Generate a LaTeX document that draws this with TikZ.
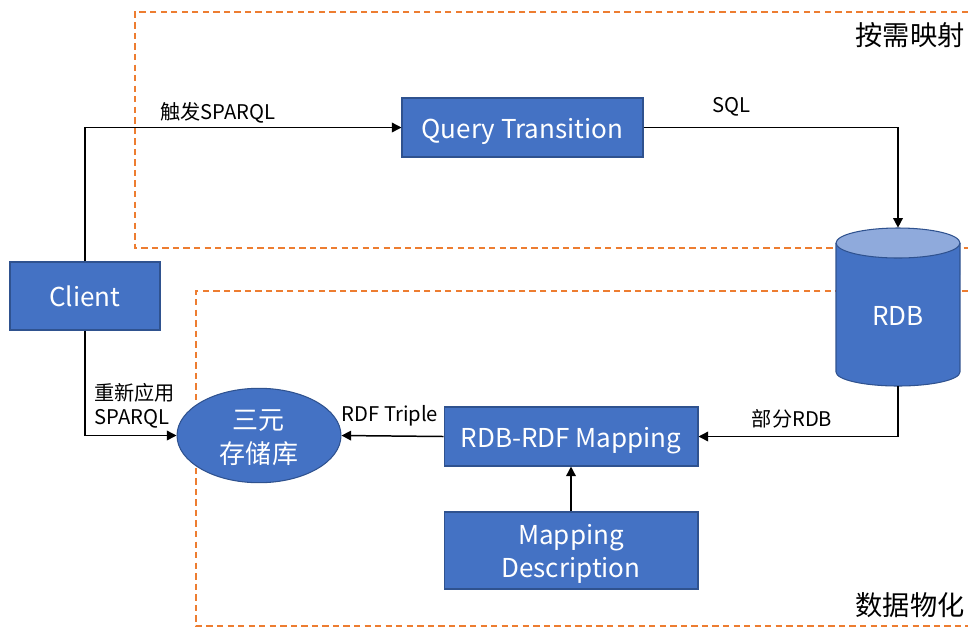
\documentclass[tikz,border=0pt]{standalone}
\usepackage{fontspec}
\setmainfont{Noto Sans CJK SC}
\usetikzlibrary{arrows.meta,shapes.geometric}
\definecolor{boxfill}{HTML}{4472C4}
\definecolor{boxline}{HTML}{2F528F}
\definecolor{cyltop}{HTML}{8FAADC}
\definecolor{dashor}{HTML}{ED7D31}
\tikzset{
  bluebox/.style={draw=boxline, line width=0.6pt, fill=boxfill, text=white, inner sep=0pt,
    font=\fontsize{14.8}{19.3}\selectfont, align=center, text height=15.4pt, text depth=3pt},
  twoline/.style={text height=34.2pt, text depth=3pt},
  conn/.style={draw=black, line width=0.85pt, -{Triangle[length=5.5pt,width=5.5pt]}},
  lbl/.style={font=\fontsize{11.5}{13.5}\selectfont, inner sep=0pt, align=left},
  region/.style={font=\fontsize{15.5}{18}\selectfont, inner sep=0pt},
  dashbox/.style={draw=dashor, line width=0.75pt, dash pattern=on 3.6pt off 2.4pt}
}
\begin{document}
\begin{tikzpicture}[x=0.02cm, y=-0.02cm]
\useasboundingbox (0,0) rectangle (968,627);
% dashed regions
\draw[dashbox] (968,12) -- (135,12) -- (135,248) -- (968,248);
\draw[dashbox] (968,291) -- (196,291) -- (196,626) -- (968,626);
% boxes
\node[bluebox, minimum width=3cm, minimum height=1.36cm] (client) at (85,296) {Client};
\node[bluebox, minimum width=4.82cm, minimum height=1.18cm] (query) at (522.5,127.5) {Query Transition};
\node[bluebox, minimum width=5.08cm, minimum height=1.18cm] (map) at (571,436.5) {RDB-RDF Mapping};
\node[bluebox, twoline, minimum width=5.08cm, minimum height=1.54cm] (desc) at (571,550.5) {Mapping\\Description};
\node[bluebox, twoline, text height=35pt, ellipse, minimum width=3.28cm, minimum height=1.88cm] (store) at (259,435.5) {三元\\存储库};
% cylinder
\fill[boxfill] (836,243) -- (836,372) arc[start angle=180, end angle=360, x radius=1.24cm, y radius=0.28cm] -- (960,243) -- cycle;
\draw[boxline, line width=0.6pt] (836,243) -- (836,372) arc[start angle=180, end angle=360, x radius=1.24cm, y radius=0.28cm] -- (960,243);
\draw[boxline, line width=0.6pt, fill=cyltop] (898,243) ellipse [x radius=1.24cm, y radius=0.3cm];
\node[minimum width=2.48cm, minimum height=3.16cm, inner sep=0pt] (rdb) at (898,307) {};
\node[text=white, font=\fontsize{14.8}{18}\selectfont, inner sep=0pt] (rdbtext) at (898,316) {RDB};
% connectors
\draw[conn] (client.north) |- (query.west);
\draw[conn] (query.east) -| (rdb.north);
\draw[conn] (rdb.south) |- (map.east);
\draw[conn] (map.west) -- (store.east);
\draw[conn] (client.south) |- (store.west);
\draw[conn] (desc.north) -- (map.south);
% labels
\node[lbl] (l1) at (218,113) {触发SPARQL};
\node[lbl] (l2) at (731,107) {SQL};
\node[lbl] (l3) at (792,419) {部分RDB};
\node[lbl] (l4) at (390,416) {RDF Triple};
\node[lbl, anchor=west] (l5) at (94,406) {重新应用\\SPARQL};
\node[region] (r1) at (910,35) {按需映射};
\node[region] (r2) at (910,605) {数据物化};
\end{tikzpicture}
\end{document}
